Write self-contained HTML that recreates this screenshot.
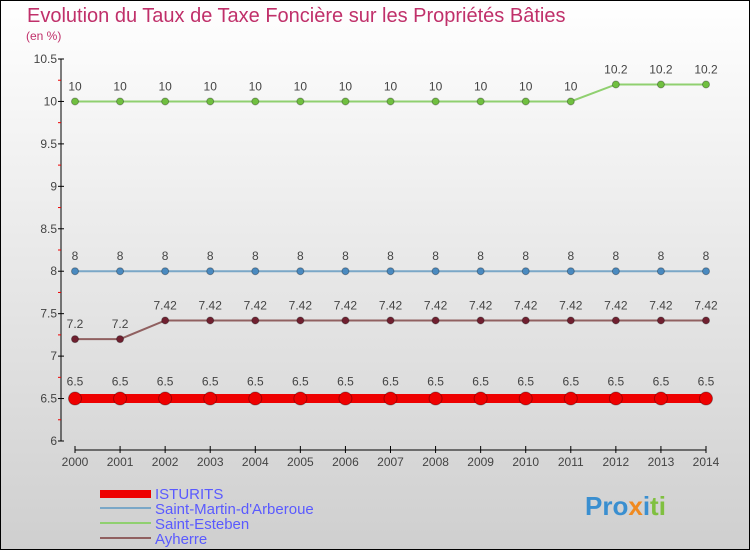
<!DOCTYPE html>
<html><head><meta charset="utf-8"><style>
body{margin:0}
svg{display:block;font-family:"Liberation Sans",sans-serif}
</style></head><body>
<svg width="750" height="550">
<defs><linearGradient id="bg" x1="0" y1="0" x2="0" y2="1"><stop offset="0" stop-color="#ffffff"/><stop offset="1" stop-color="#cfcfcf"/></linearGradient></defs>
<rect x="0.5" y="0.5" width="749" height="549" fill="url(#bg)" stroke="#000"/>
<text x="27" y="22" font-size="20" fill="#c0306a">Evolution du Taux de Taxe Foncière sur les Propriétés Bâties</text>
<text x="26" y="40" font-size="12" fill="#c0306a">(en %)</text>
<g id="axes"></g><g id="series"></g>
<g>
<rect x="100" y="490" width="51" height="8" fill="#e00"/>
<text x="155" y="499" font-size="15" fill="#5a5aff">ISTURITS</text>
<rect x="100" y="507" width="51" height="2" fill="#7aa7c7"/>
<text x="155" y="514" font-size="15" fill="#5a5aff">Saint-Martin-d'Arberoue</text>
<rect x="100" y="522" width="51" height="2" fill="#90d070"/>
<text x="155" y="529" font-size="15" fill="#5a5aff">Saint-Esteben</text>
<rect x="100" y="537" width="51" height="2" fill="#906060"/>
<text x="155" y="544" font-size="15" fill="#5a5aff">Ayherre</text>
</g>
<g font-size="26" font-weight="bold">
<text x="585" y="515"><tspan fill="#3a8fd0">Pro</tspan><tspan fill="#f08a20">x</tspan><tspan fill="#3a8fd0">i</tspan><tspan fill="#80c040">ti</tspan></text>
</g>
</svg>
<script>
const years=[2000,2001,2002,2003,2004,2005,2006,2007,2008,2009,2010,2011,2012,2013,2014];
const yTicks=[6,6.5,7,7.5,8,8.5,9,9.5,10,10.5];
const isturits=[6.5,6.5,6.5,6.5,6.5,6.5,6.5,6.5,6.5,6.5,6.5,6.5,6.5,6.5,6.5];
const saintMartin=[8,8,8,8,8,8,8,8,8,8,8,8,8,8,8];
const saintEsteben=[10,10,10,10,10,10,10,10,10,10,10,10,10.2,10.2,10.2];
const ayherre=[7.2,7.2,7.42,7.42,7.42,7.42,7.42,7.42,7.42,7.42,7.42,7.42,7.42,7.42,7.42];
const NS="http://www.w3.org/2000/svg";
const X=i=>75+i*(706-75)/(years.length-1);
const Y=v=>441-(v-6)*(441-59)/4.5;
function mk(t,a,p){const e=document.createElementNS(NS,t);for(const k in a)e.setAttribute(k,a[k]);p.appendChild(e);return e;}
const ax=document.getElementById('axes');
const yl=mk('line',{x1:61,y1:59,x2:61,y2:441,stroke:'#000'},ax);


yTicks.forEach((v,i)=>{
 mk('line',{x1:58,y1:Y(v),x2:64,y2:Y(v),stroke:'#000'},ax);
 if(i<yTicks.length-1) mk('line',{x1:58,y1:Y(v+0.25),x2:61,y2:Y(v+0.25),stroke:'#e00'},ax);
 const t=mk('text',{x:57,y:Y(v)+4,'text-anchor':'end','font-size':12,fill:'#444'},ax);
 t.textContent=String(v);
 
 
});
const xl=mk('line',{x1:75,y1:450,x2:706,y2:450,stroke:'#000'},ax);


years.forEach((y,i)=>{
 mk('line',{x1:X(i),y1:446,x2:X(i),y2:453,stroke:'#000'},ax);
 const t=mk('text',{x:X(i),y:466,'text-anchor':'middle','font-size':12,fill:'#444'},ax);
 t.textContent=y;
 
 
});
const sg=document.getElementById('series');
function series(vals,color,dot,lw,r,name){
 const g=mk('g',{},sg);
 
 
 mk('polyline',{points:vals.map((v,i)=>X(i)+','+Y(v)).join(' '),fill:'none',stroke:color,'stroke-width':lw},g);
 vals.forEach((v,i)=>{
  const c=mk('circle',{cx:X(i),cy:Y(v),r:r,fill:dot,stroke:'rgba(0,0,0,0.3)'},g);
  
  
  const t=mk('text',{x:X(i),y:Y(v)-11-(r>4?2:0),'text-anchor':'middle','font-size':12,fill:'#444'},g);
  t.textContent=String(v);
  
  
 });
}
series(saintEsteben,'#90d070','#70c040',2,3.5,'saint-esteben');
series(saintMartin,'#7aa7c7','#4a8ac0',2,3.5,'saint-martin');
series(ayherre,'#906060','#702030',2,3.5,'ayherre');
series(isturits,'#e00','#e00',9,6.5,'isturits');
</script>
</body></html>
